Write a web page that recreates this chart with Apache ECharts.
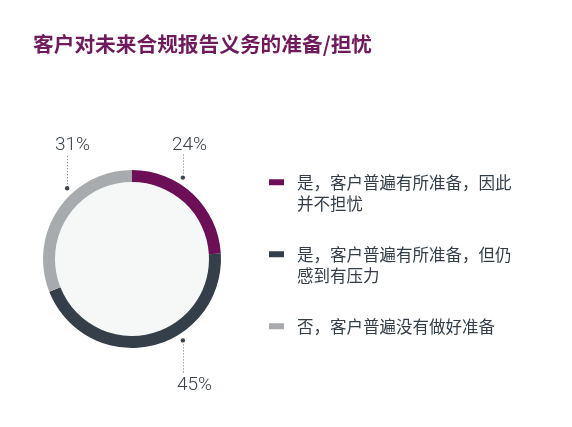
<!DOCTYPE html>
<html>
<head>
<meta charset="utf-8">
<script src="https://cdn.jsdelivr.net/npm/echarts@6/dist/echarts.min.js"></script>
<style>
  html, body { margin: 0; padding: 0; background: #fff; }
  #chart { width: 572px; height: 427px; }
</style>
</head>
<body>
<div id="chart"></div>
<script>
const categories = [
  '是，客户普遍有所准备，因此并不担忧',
  '是，客户普遍有所准备，但仍感到有压力',
  '否，客户普遍没有做好准备'
];
const shares = [24, 45, 31];
const colors = ['#6c0f57', '#343f49', '#a8abae'];

// where each percentage callout sits (angle clockwise from 12 o'clock, label box)
const calloutAngles = [32, 148, 317.5];
const calloutLabelPos = [[172, 145], [177, 385], [55, 145]];

const center = [132, 259];
const ringInner = 77;
const ringOuter = 89;
const dotRadius = 96;

const chart = echarts.init(document.getElementById('chart'));

function dotAt(i) {
  const a = calloutAngles[i] * Math.PI / 180;
  return [center[0] + dotRadius * Math.sin(a), center[1] - dotRadius * Math.cos(a)];
}

const dots = shares.map((v, i) => {
  const p = dotAt(i);
  return {
    type: 'circle',
    shape: { cx: p[0], cy: p[1], r: 2.2 },
    style: { fill: '#3b444d' },
    silent: true
  };
});

chart.setOption({
  animation: false,
  title: {
    text: '客户对未来合规报告义务的准备/担忧',
    left: 33,
    top: 34,
    padding: 0,
    textStyle: {
      color: '#6e1a5c',
      fontSize: 20.7,
      fontWeight: 'bold',
      fontFamily: 'Noto Sans CJK SC'
    }
  },
  legend: {
    orient: 'vertical',
    left: 269,
    top: 150,
    padding: 0,
    itemGap: 7.5,
    itemWidth: 15,
    itemHeight: 6,
    icon: 'rect',
    data: categories,
    selectedMode: false,
    formatter: function (name) {
      if (name.length > 13) {
        return '\n' + name.slice(0, 13) + '\n' + name.slice(13);
      }
      return '\n' + name + '\n';
    },
    textStyle: {
      color: '#323d47',
      fontSize: 16.5,
      lineHeight: 21.5,
      fontFamily: 'Noto Sans CJK SC',
      padding: [0, 0, 0, 8]
    }
  },
  series: [
    {
      type: 'pie',
      center: center,
      radius: [0, ringInner],
      silent: true,
      label: { show: false },
      labelLine: { show: false },
      data: [{ value: 1, name: 'bg', itemStyle: { color: '#f6f8f8' } }],
      z: 1
    },
    {
      type: 'pie',
      center: center,
      radius: [ringInner, ringOuter],
      startAngle: 90,
      clockwise: true,
      silent: true,
      data: categories.map((c, i) => ({
        name: c,
        value: shares[i],
        itemStyle: { color: colors[i] }
      })),
      label: {
        show: true,
        position: 'outside',
        formatter: '{c}%',
        overflow: 'none',
        color: '#3a434c',
        fontSize: 19,
        fontWeight: 300,
        fontFamily: 'Roboto'
      },
      labelLine: {
        show: true,
        lineStyle: { color: '#6b737a', width: 1, type: [1, 2] }
      },
      labelLayout: function (params) {
        const i = params.dataIndex;
        const p = dotAt(i);
        const lp = calloutLabelPos[i];
        const above = lp[1] < p[1];
        const x = Math.round(p[0]) + 0.5;
        return {
          x: lp[0],
          y: lp[1],
          align: 'left',
          verticalAlign: 'middle',
          labelLinePoints: above
            ? [[x, p[1] - 4], [x, (p[1] - 4 + lp[1] + 9) / 2], [x, lp[1] + 9]]
            : [[x, p[1] + 4], [x, (p[1] + 4 + lp[1] - 11) / 2], [x, lp[1] - 11]]
        };
      },
      z: 2
    }
  ],
  graphic: dots
});
</script>
</body>
</html>
